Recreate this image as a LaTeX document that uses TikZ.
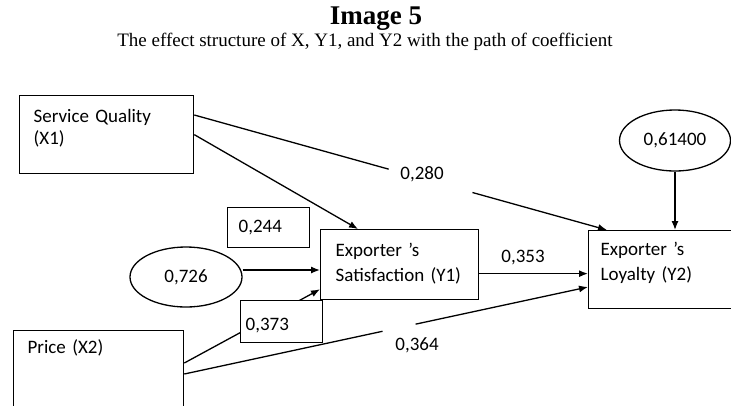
\documentclass[tikz,border=0pt]{standalone}
\usepackage{fontspec}
\setmainfont{Carlito}
\newfontfamily\serifhead{Liberation Serif}
\usetikzlibrary{shapes.geometric,arrows.meta,calc}

\begin{document}
\begin{tikzpicture}[
  x=1pt, y=-1pt,
  var/.style={draw, line width=1.3pt, anchor=north west, align=left, inner ysep=6pt, font=\fontsize{19}{25}\selectfont},
  coef/.style={draw, line width=1.3pt, anchor=north west, align=left, fill=white, font=\fontsize{19}{23}\selectfont},
  err/.style={draw, ellipse, line width=1.3pt, inner sep=0pt, font=\fontsize{19}{23}\selectfont},
  lbl/.style={anchor=base, font=\fontsize{19}{23}\selectfont},
  arrow/.style={-{Latex[length=9pt,width=7pt]}, line width=1.3pt}
]
\clip (0,0) rectangle (731,405);

% heading
\node[anchor=base, font=\serifhead\bfseries\fontsize{27}{30}\selectfont] (title) at (376,24) {Image 5};
\node[anchor=base, font=\serifhead\fontsize{19}{22}\selectfont] (subtitle) at (365,46) {The effect structure of X, Y1, and Y2 with the path of coefficient};

% variables
\node[var, inner xsep=14pt, text width=146pt, text height=21pt, text depth=45pt, font=\fontsize{19}{22}\selectfont] (x1) at (19,95) {Service Quality\\(X1)};
\node[var, inner xsep=14pt, text width=142pt, text height=17pt, text depth=60pt] (price) at (13,330) {Price (X2)};
\node[var, inner xsep=15pt, text width=128pt, text height=21pt, text depth=37pt] (y1) at (320,229) {Exporter 's\\Satisfaction (Y1)};
\node[var, inner xsep=12pt, text width=133pt, text height=19pt, text depth=47pt] (y2) at (588,230) {Exporter 's\\Loyalty (Y2)};

% residuals
\node[err, minimum width=112pt, minimum height=60pt] (e726) at (186,277) {0,726};
\node[err, minimum width=111pt, minimum height=61pt] (e614) at (675,140.5) {0,61400};

% paths
\coordinate (x1a) at ([yshift=-20pt]x1.north east);
\coordinate (y2a) at ([xshift=19pt]y2.north west);
\draw[arrow] (x1a) -- ($(x1a)!0.471!(y2a)$) ($(x1a)!0.674!(y2a)$) -- (y2a);
\node[lbl] (l280) at (422,179) {0,280};

\draw[arrow] (x1.east) -- ([xshift=38pt]y1.north west);
\node[coef, inner xsep=11pt, inner ysep=6pt, text width=60pt, text height=19pt, text depth=9pt] (c244) at (227,207) {0,244};

\draw[arrow] ([yshift=7pt]e726.east) -- ([yshift=7pt]e726.east -| y1.west);

\draw[arrow] ([yshift=-33pt]price.north east) -- ([yshift=11pt]y1.south west);
\node[coef, inner xsep=5pt, inner ysep=4pt, text width=72pt, text height=26pt, text depth=8pt] (c373) at (240,300) {0,373};

\draw[arrow] ([yshift=-9pt]y1.east) -- ([yshift=-9pt]y1.east -| y2.west);
\node[lbl] (l353) at (523,262) {0,353};

\coordinate (pra) at ([yshift=-44pt]price.north east);
\coordinate (y2b) at ([yshift=-57pt]y2.north west);
\draw[arrow] (pra) -- ($(pra)!0.491!(y2b)$) ($(pra)!0.573!(y2b)$) -- (y2b);
\node[lbl] (l364) at (417,350) {0,364};

\draw[arrow] (e614.south) -- (e614.south |- y2.north);
\end{tikzpicture}
\end{document}
